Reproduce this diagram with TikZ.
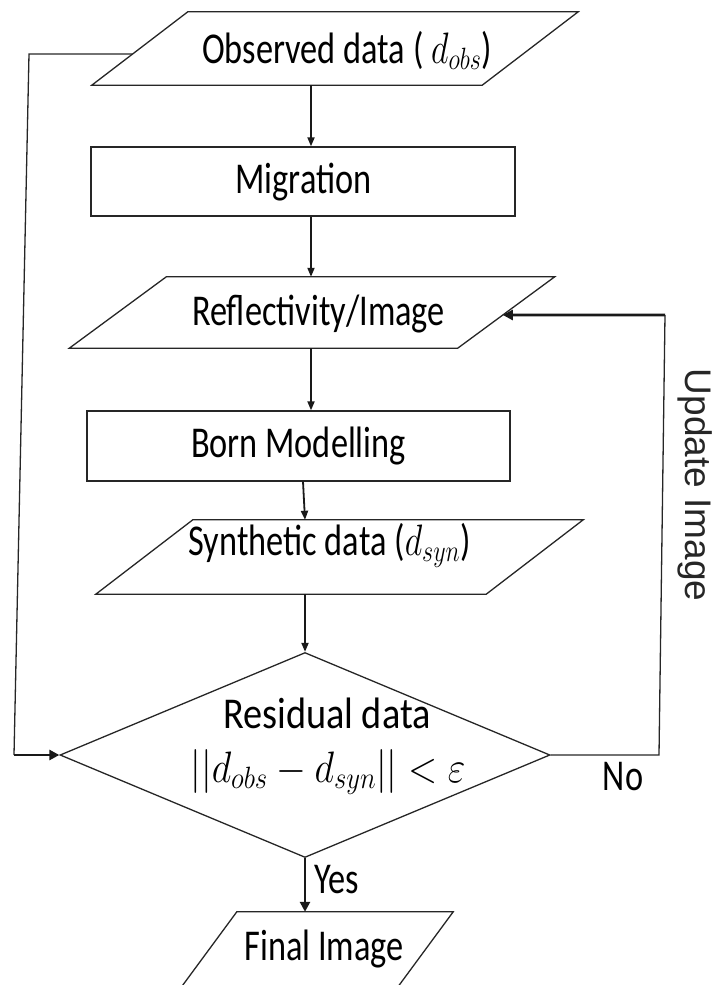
\RequirePackage{fix-cm}
\documentclass[tikz,border=0pt]{standalone}
\usepackage{fontspec}
\setmainfont{Carlito}
\newfontfamily\sidefont{Liberation Sans}
\usetikzlibrary{arrows.meta,shapes.geometric,calc}

% horizontally condensed text
\newcommand\hsq[2]{\scalebox{#1}[1]{#2}}

% outline of a slanted (input/output) box around an invisible node
% #1 node name, #2 half of the horizontal slant
\newcommand\slantbox[2]{%
  \draw[flowline] ([xshift=#2]#1.north west) -- ([xshift=#2]#1.north east)
    -- ([xshift=-#2]#1.south east) -- ([xshift=-#2]#1.south west) -- cycle;}

\tikzset{
  flowline/.style={line width=1.3pt, draw=black!85},
  flowarrow/.style={line width=1.8pt, draw=black!90, -{Triangle[length=9pt,width=7pt]}},
  heavyarrow/.style={line width=2.8pt, draw=black!90, -{Triangle[length=10pt,width=10pt]}},
  procbox/.style={draw=black!85, line width=1.3pt, rectangle, inner sep=0pt},
  slantframe/.style={draw=none, rectangle, inner sep=0pt},
  boxtext/.style={inner sep=0pt, text=black, font=\fontsize{44}{52}\selectfont},
  sidelabel/.style={inner sep=0pt, text=black!85, font=\sidefont\fontsize{37}{42}\selectfont},
}

\begin{document}
\begin{tikzpicture}[x=1pt,y=-1pt]
\useasboundingbox (0,0) rectangle (714,985);

% ---- shapes ----
\node[slantframe, minimum width=390pt, minimum height=73pt] (obs) at (335,48.5) {};
\slantbox{obs}{48pt}
\node[procbox, minimum width=424pt, minimum height=69pt] (mig) at (303,181.5) {};
\node[slantframe, minimum width=388pt, minimum height=71pt] (refl) at (312,312.5) {};
\slantbox{refl}{48.5pt}
\node[procbox, minimum width=423pt, minimum height=70pt] (born) at (298.5,446) {};
\node[slantframe, minimum width=390pt, minimum height=74pt] (syn) at (339.5,557) {};
\slantbox{syn}{48.5pt}
\node[diamond, draw=black!85, line width=1.3pt, inner sep=0pt,
      minimum width=490pt, minimum height=205pt] (res) at (305,755) {};
\node[slantframe, minimum width=216pt, minimum height=90pt] (fin) at (311.7,957) {};
\slantbox{fin}{33.3pt}

% ---- texts ----
\node[boxtext, anchor=base] (obs-t) at (347,63) {\hsq{0.78}{Observed data ( $d_{obs}$)}};
\node[boxtext, anchor=base] (mig-t) at (303.5,193) {\hsq{0.78}{Migration}};
\node[boxtext, anchor=base] (refl-t) at (318.5,325) {\hsq{0.78}{Reflectivity/Image}};
\node[boxtext, anchor=base] (born-t) at (298.5,457) {\hsq{0.78}{Born Modelling}};
\node[boxtext, anchor=base] (syn-t) at (329.5,555) {\hsq{0.78}{Synthetic data ($d_{syn}$)}};
\node[boxtext, anchor=base] (res-t1) at (327,728) {\hsq{0.87}{Residual data}};
\node[boxtext, anchor=base] (res-t2) at (328,782) {\hsq{0.87}{$||d_{obs}-d_{syn}||<\varepsilon$}};
\node[boxtext, anchor=base] (fin-t) at (324,960) {\hsq{0.78}{Final Image}};
\node[boxtext, anchor=base] (yes) at (336.5,893) {\hsq{0.78}{Yes}};
\node[boxtext, anchor=base] (no) at (623,790) {\hsq{0.78}{No}};
\node[sidelabel, rotate=-90] (upd) at (695,485) {Update Image};

% ---- main flow ----
\coordinate (spine) at (311,0);
\coordinate (bornout) at (303,0);
\draw[flowarrow] (obs.south -| spine) -- (mig.north -| spine);
\draw[flowarrow] (mig.south -| spine) -- (refl.north -| spine);
\draw[flowarrow] (refl.south -| spine) -- (born.north -| spine);
\draw[flowarrow] (born.south -| bornout) -- (syn.north -| res.north);
\draw[flowarrow] (syn.south -| res.north) -- (res.north);
\draw[heavyarrow] (res.south) -- (res.south |- fin.north);

% ---- feedback of the observed data into the test ----
\coordinate (obsside) at ($([xshift=48pt]obs.north west)!0.575!([xshift=-48pt]obs.south west)$);
\coordinate (lc1) at (29,54);
\coordinate (lc2) at (14,755);
\draw[flowline] (obsside) -- (lc1) -- (lc2);
\draw[heavyarrow] (lc2) -- (res.west);

% ---- update loop ----
\coordinate (reflside) at ($([xshift=48.5pt]refl.north east)!0.535!([xshift=-48.5pt]refl.south east)$);
\coordinate (rc1) at (659,755);
\coordinate (rc2) at (665,315);
\draw[flowline] (res.east) -- (rc1) -- (rc2);
\draw[heavyarrow] (rc2) -- (reflside);
\end{tikzpicture}
\end{document}
